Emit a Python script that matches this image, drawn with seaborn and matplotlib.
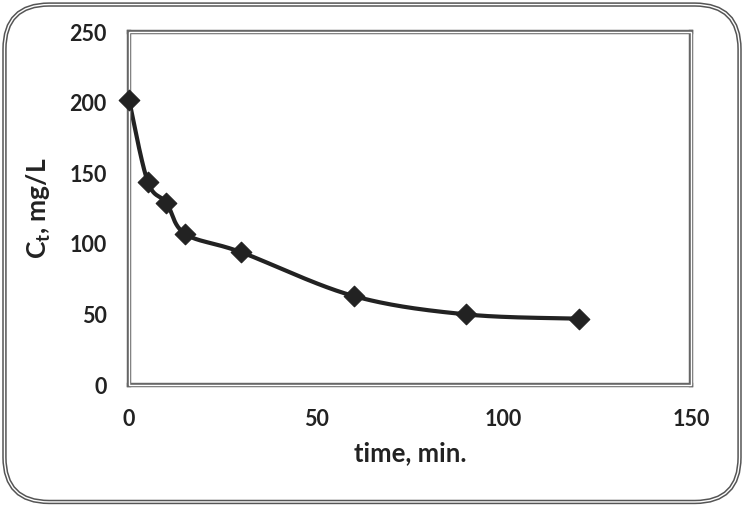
import numpy as np
import pandas as pd
import matplotlib
matplotlib.use("Agg")
import matplotlib.pyplot as plt
import seaborn as sns
from matplotlib.patches import FancyBboxPatch, Rectangle

# data
time_min = [0, 5, 10, 15, 30, 60, 90, 120]
ct_mgL = [202, 144, 129, 107, 94, 63, 50, 47]
x_ticks = [0, 50, 100, 150]
y_ticks = [0, 50, 100, 150, 200, 250]


def excel_smooth(x, y, n=40):
    # bezier smoothing like the spreadsheet "smoothed line"
    x = np.asarray(x, float)
    y = np.asarray(y, float)
    px = np.concatenate([[x[0]], x, [x[-1]]])
    py = np.concatenate([[y[0]], y, [y[-1]]])
    xs, ys = [], []
    t = np.linspace(0, 1, n)
    for i in range(1, len(px) - 2):
        p0 = np.array([px[i], py[i]])
        p3 = np.array([px[i + 1], py[i + 1]])
        p1 = p0 + (np.array([px[i + 1], py[i + 1]]) - np.array([px[i - 1], py[i - 1]])) / 6
        p2 = p3 - (np.array([px[i + 2], py[i + 2]]) - np.array([px[i], py[i]])) / 6
        b = ((1 - t) ** 3)[:, None] * p0 + (3 * (1 - t) ** 2 * t)[:, None] * p1 \
            + (3 * (1 - t) * t ** 2)[:, None] * p2 + (t ** 3)[:, None] * p3
        xs.extend(b[:, 0])
        ys.extend(b[:, 1])
    return np.array(xs), np.array(ys)


sns.set_style("white")
plt.rcParams["font.family"] = ["Lato", "DejaVu Sans"]
plt.rcParams["font.weight"] = "bold"

df = pd.DataFrame({"time": time_min, "ct": ct_mgL})
sx, sy = excel_smooth(time_min, ct_mgL)
curve = pd.DataFrame({"time": sx, "ct": sy})

fig = plt.figure(figsize=(7.44, 5.05), dpi=100)
ax = fig.add_axes([0.1734, 0.2376, 0.7554, 0.699])

sns.lineplot(data=curve, x="time", y="ct", ax=ax, color="#222222", lw=3, sort=False)
sns.scatterplot(data=df, x="time", y="ct", ax=ax, marker="D", s=110,
                color="#222222", edgecolor="#222222", zorder=5, clip_on=False)

ax.set_xlim(0, 150)
ax.set_ylim(0, 250)
ax.set_xticks(x_ticks)
ax.set_yticks(y_ticks)
ax.tick_params(length=0, labelsize=15.5)
ax.tick_params(axis="x", pad=17)
ax.tick_params(axis="y", pad=16)
for lab in ax.get_xticklabels() + ax.get_yticklabels():
    lab.set_fontweight("bold")
    lab.set_color("#222222")

ax.set_xlabel("time, min.", fontsize=18.5, fontweight="bold", color="#222222", labelpad=8)
ax.set_ylabel(r"C$_\mathregular{t}$, mg/L", fontsize=19, fontweight="bold", color="#222222", labelpad=12)

# double line frame round plot area
for s in ax.spines.values():
    s.set_linewidth(3.2)
    s.set_color("#666666")
ax.add_patch(Rectangle((0, 0), 1, 1, transform=ax.transAxes, fill=False,
                       lw=1, ec="white", clip_on=False, zorder=4))

# rounded outer frame
fig.patches.append(FancyBboxPatch((0.006, 0.006), 0.988, 0.985, transform=fig.transFigure,
                                  boxstyle="round,pad=0,rounding_size=0.06", mutation_aspect=744 / 505,
                                  fill=False, lw=3.2, ec="#555555"))
fig.patches.append(FancyBboxPatch((0.006, 0.006), 0.988, 0.985, transform=fig.transFigure,
                                  boxstyle="round,pad=0,rounding_size=0.06", mutation_aspect=744 / 505,
                                  fill=False, lw=1, ec="white"))

fig.savefig("out.png", dpi=100)
